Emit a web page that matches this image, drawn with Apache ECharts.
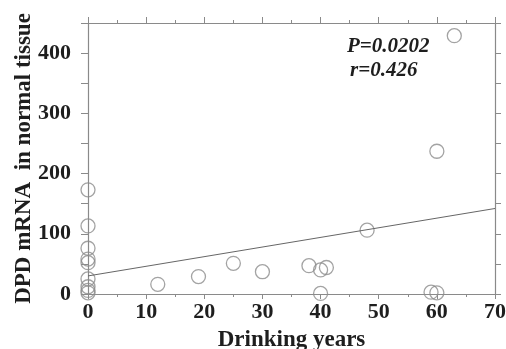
<!DOCTYPE html>
<html>
<head>
<meta charset="utf-8">
<script src="https://cdn.jsdelivr.net/npm/echarts@6/dist/echarts.min.js"></script>
<style>
  html, body { margin: 0; padding: 0; background: #fff; }
  #chart { width: 506px; height: 349px; }
</style>
</head>
<body>
<div id="chart"></div>
<script>
// drinking years vs DPD mRNA (normal tissue)
var years = [0, 0, 0, 0, 0, 0, 0, 0, 0, 12, 19, 25, 30, 38, 40, 41, 40, 48, 59, 60, 60, 63];
var dpd = [173, 113, 76, 58, 52, 25, 12, 6, 2, 16, 29, 51, 37, 47, 40, 44, 1, 106, 3, 2, 237, 429];
// fitted line end points
var fitX = [0, 70];
var fitY = [30, 142];
var statP = 'P=0.0202';
var statR = 'r=0.426';

var font = '"Liberation Serif", "DejaVu Serif", serif';
var axisGray = '#8a8a8a';
var textColor = '#1e1e1e';

var points = years.map(function (x, i) { return [x, dpd[i]]; });
var fitLine = fitX.map(function (x, i) { return [x, fitY[i]]; });

var chart = echarts.init(document.getElementById('chart'), null, { renderer: 'canvas' });

var baseX = {
  type: 'value', min: 0, max: 70, interval: 10,
  axisLine: { show: true, onZero: false, lineStyle: { color: axisGray, width: 1.2 } },
  splitLine: { show: false }
};
var baseY = {
  type: 'value', min: 0, max: 450, interval: 50,
  axisLine: { show: true, onZero: false, lineStyle: { color: axisGray, width: 1.2 } },
  splitLine: { show: false }
};

var option = {
  animation: false,
  backgroundColor: '#fff',
  grid: { left: 88, right: 11, top: 23, bottom: 55, containLabel: false, outerBoundsMode: 'none' },
  xAxis: [
    Object.assign({}, baseX, {
      position: 'bottom',
      name: 'Drinking years', nameLocation: 'middle', nameGap: 35, nameMoveOverlap: false,
      nameTextStyle: { fontFamily: font, fontWeight: 'bold', fontSize: 23, color: textColor },
      axisTick: { show: true, inside: false, length: 5, lineStyle: { color: axisGray } },
      minorTick: { show: true, splitNumber: 2, length: 3, lineStyle: { color: axisGray } },
      axisLabel: { fontFamily: font, fontWeight: 'bold', fontSize: 22, color: textColor, margin: 7 }
    }),
    Object.assign({}, baseX, {
      position: 'top',
      axisTick: { show: true, inside: false, length: 6, lineStyle: { color: axisGray } },
      minorTick: { show: true, splitNumber: 2, length: 3, lineStyle: { color: axisGray } },
      axisLabel: { show: false }
    })
  ],
  yAxis: [
    Object.assign({}, baseY, {
      position: 'left',
      name: 'DPD mRNA  in normal tissue', nameLocation: 'middle', nameGap: 52, nameMoveOverlap: false,
      nameTextStyle: { fontFamily: font, fontWeight: 'bold', fontSize: 23, color: textColor },
      axisTick: { show: true, inside: false, length: 7, lineStyle: { color: axisGray } },
      axisLabel: {
        fontFamily: font, fontWeight: 'bold', fontSize: 22, color: textColor, margin: 17,
        formatter: function (v) { return (v % 100 === 0 && v <= 400) ? String(v) : ''; }
      }
    }),
    Object.assign({}, baseY, {
      position: 'right',
      axisTick: { show: true, inside: false, length: 6, lineStyle: { color: axisGray } },
      axisLabel: { show: false }
    })
  ],
  graphic: [
    { type: 'text', left: 347, top: 36, style: { text: statP, font: 'italic bold 21px ' + font, fill: textColor } },
    { type: 'text', left: 350, top: 60, style: { text: statR, font: 'italic bold 21px ' + font, fill: textColor } }
  ],
  series: [
    {
      type: 'line', data: fitLine, xAxisIndex: 0, yAxisIndex: 0,
      symbol: 'none', lineStyle: { color: '#666', width: 1 }, silent: true
    },
    {
      type: 'scatter', data: points, xAxisIndex: 0, yAxisIndex: 0,
      symbol: 'circle', symbolSize: 14,
      itemStyle: { color: 'rgba(255,255,255,0)', borderColor: '#8c8c8c', borderWidth: 1.3 }
    }
  ]
};

chart.setOption(option);
</script>
</body>
</html>
